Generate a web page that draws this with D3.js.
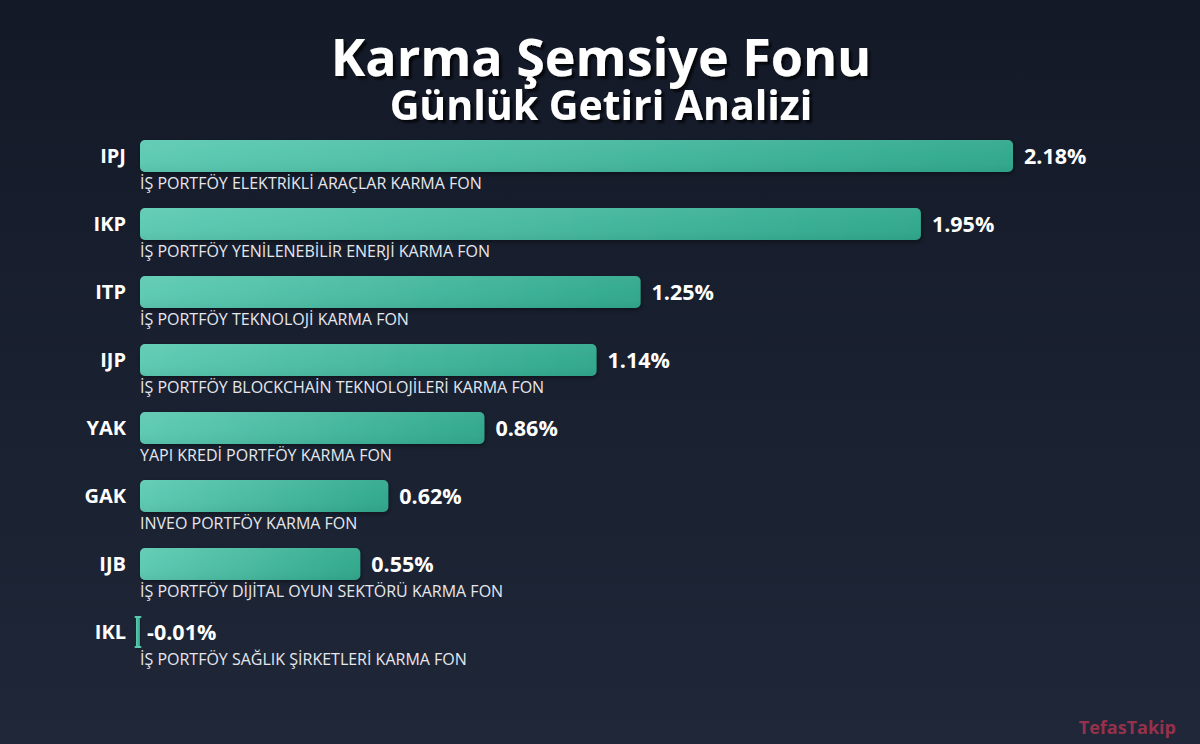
<!DOCTYPE html>
<html>
<head>
<meta charset="utf-8">
<script src="https://cdn.jsdelivr.net/npm/d3@7"></script>
<style>
  html, body { margin: 0; padding: 0; background: #151b29; }
  svg { display: block; }
</style>
</head>
<body>
<svg id="main_svg" width="1200" height="744"></svg>
<script>
// fon kodlari, isimleri ve gunluk getiriler (%)
const codes = ["IPJ", "IKP", "ITP", "IJP", "YAK", "GAK", "IJB", "IKL"];
const names = [
    "İŞ PORTFÖY ELEKTRİKLİ ARAÇLAR KARMA FON",
    "İŞ PORTFÖY YENİLENEBİLİR ENERJİ KARMA FON",
    "İŞ PORTFÖY TEKNOLOJİ KARMA FON",
    "İŞ PORTFÖY BLOCKCHAİN TEKNOLOJİLERİ KARMA FON",
    "YAPI KREDİ PORTFÖY KARMA FON",
    "INVEO PORTFÖY KARMA FON",
    "İŞ PORTFÖY DİJİTAL OYUN SEKTÖRÜ KARMA FON",
    "İŞ PORTFÖY SAĞLIK ŞİRKETLERİ KARMA FON"
];
const returns = [2.18, 1.95, 1.25, 1.14, 0.86, 0.62, 0.55, -0.01];

const font = "'Open Sans', 'Noto Sans', sans-serif";
let svg = d3.select("#main_svg");
let defs = svg.append("defs");

let bg = defs.append("linearGradient").attr("id", "bg")
    .attr("x1", 0).attr("y1", 0).attr("x2", 0).attr("y2", 1);
bg.append("stop").attr("offset", "0%").attr("stop-color", "#131927");
bg.append("stop").attr("offset", "100%").attr("stop-color", "#1f2738");

let barGrad = defs.append("linearGradient").attr("id", "barGrad")
    .attr("x1", 0).attr("y1", 0).attr("x2", 1).attr("y2", 0);
barGrad.append("stop").attr("offset", "0%").attr("stop-color", "#5dcab2");
barGrad.append("stop").attr("offset", "100%").attr("stop-color", "#2fa88c");

let shine = defs.append("linearGradient").attr("id", "shine")
    .attr("x1", 0).attr("y1", 0).attr("x2", 0).attr("y2", 1);
shine.append("stop").attr("offset", "0%").attr("stop-color", "#ffffff").attr("stop-opacity", 0.06);
shine.append("stop").attr("offset", "50%").attr("stop-color", "#ffffff").attr("stop-opacity", 0.02);
shine.append("stop").attr("offset", "100%").attr("stop-color", "#000000").attr("stop-opacity", 0.05);

let shadow = defs.append("filter").attr("id", "shadow")
    .attr("x", "-10%").attr("y", "-30%").attr("width", "130%").attr("height", "180%");
shadow.append("feDropShadow").attr("dx", 1).attr("dy", 2).attr("stdDeviation", 2)
    .attr("flood-color", "#000").attr("flood-opacity", 0.4);

let textShadow = defs.append("filter").attr("id", "tshadow")
    .attr("x", "-5%").attr("y", "-20%").attr("width", "115%").attr("height", "150%");
textShadow.append("feDropShadow").attr("dx", 3).attr("dy", 3).attr("stdDeviation", 1)
    .attr("flood-color", "#000").attr("flood-opacity", 0.7);

svg.append("rect").attr("width", 1200).attr("height", 744).attr("fill", "url(#bg)");

// baslik
svg.append("text")
    .attr("x", 601).attr("y", 76)
    .attr("text-anchor", "middle")
    .attr("font-family", font).attr("font-weight", 700).attr("font-size", 52)
    .attr("fill", "#ffffff").attr("filter", "url(#tshadow)")
    .text("Karma Şemsiye Fonu");
svg.append("text")
    .attr("x", 601).attr("y", 120)
    .attr("text-anchor", "middle")
    .attr("font-family", font).attr("font-weight", 700).attr("font-size", 41)
    .attr("fill", "#ffffff").attr("filter", "url(#tshadow)")
    .text("Günlük Getiri Analizi");

// olcekler
let x = d3.scaleLinear().domain([0, 2.18]).range([140, 1013]);
let y = d3.scaleBand().domain(codes).range([140, 648]).paddingInner(36 / 68).paddingOuter(0);

let rows = svg.selectAll("g.row")
    .data(codes.map((c, i) => ({ code: c, name: names[i], value: returns[i] })))
    .enter().append("g").attr("class", "row");

rows.append("rect")
    .attr("x", d => Math.min(x(d.value), x(0)))
    .attr("y", d => y(d.code))
    .attr("width", d => Math.max(Math.abs(x(d.value) - x(0)), 2))
    .attr("height", y.bandwidth())
    .attr("rx", d => d.value < 0 ? 1 : 5)
    .attr("fill", "url(#barGrad)")
    .attr("filter", "url(#shadow)");

rows.filter(d => d.value >= 0).append("rect")
    .attr("x", d => x(0))
    .attr("y", d => y(d.code))
    .attr("width", d => x(d.value) - x(0))
    .attr("height", y.bandwidth())
    .attr("rx", 5)
    .attr("fill", "url(#shine)");

// negatif deger icin kucuk uclar
rows.filter(d => d.value < 0).each(function (d) {
    let g = d3.select(this);
    let cx = (x(d.value) + x(0)) / 2;
    [y(d.code), y(d.code) + y.bandwidth() - 2].forEach(yy => {
        g.append("rect").attr("x", cx - 3.5).attr("y", yy).attr("width", 7).attr("height", 2)
            .attr("rx", 1).attr("fill", "#5dcab2");
    });
});

rows.append("text")
    .attr("x", 126)
    .attr("y", d => y(d.code) + y.bandwidth() / 2)
    .attr("dy", "0.35em")
    .attr("text-anchor", "end")
    .attr("font-family", font).attr("font-weight", 700).attr("font-size", 20)
    .attr("fill", "#ffffff")
    .text(d => d.code);

rows.append("text")
    .attr("x", d => Math.max(x(d.value), x(0)) + (d.value < 0 ? 7 : 11))
    .attr("y", d => y(d.code) + y.bandwidth() / 2)
    .attr("dy", "0.35em")
    .attr("font-family", font).attr("font-weight", 700).attr("font-size", 21.5)
    .attr("fill", "#ffffff")
    .text(d => d.value.toFixed(2) + "%");

rows.append("text")
    .attr("x", 140)
    .attr("y", d => y(d.code) + y.bandwidth() + 17)
    .attr("font-family", font).attr("font-size", 16)
    .attr("fill", "#e6e8ee")
    .text(d => d.name);

// filigran
svg.append("text")
    .attr("x", 1176).attr("y", 734)
    .attr("text-anchor", "end")
    .attr("font-family", font).attr("font-weight", 700).attr("font-size", 18)
    .attr("fill", "#a8334f").attr("fill-opacity", 0.9)
    .text("TefasTakip");
</script>
</body>
</html>
